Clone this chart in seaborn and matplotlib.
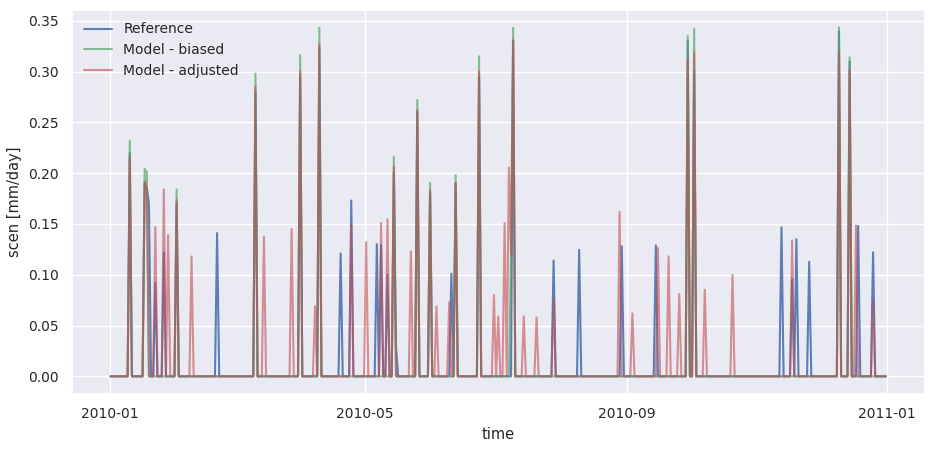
import numpy as np
import pandas as pd
import matplotlib
matplotlib.use("Agg")
import matplotlib.pyplot as plt
import matplotlib.dates as mdates
import seaborn as sns

# Daily series for 2010 (timestamps at noon); values are zero except on these days
n_days = 365
start = "2010-01-01 12:00"

ref_days = [9, 16, 17, 18, 21, 25, 31, 50, 68, 89, 98, 108, 113, 125, 127, 130, 133, 134,
            144, 150, 160, 162, 173, 189, 208, 220, 240, 256, 271, 274, 315, 320, 322,
            328, 342, 347, 351, 358]
ref_vals = [0.22, 0.19, 0.185, 0.17, 0.092, 0.122, 0.17, 0.141, 0.28, 0.295, 0.323, 0.121,
            0.173, 0.130, 0.129, 0.10, 0.20, 0.03, 0.26, 0.18, 0.101, 0.19, 0.295, 0.33, 0.114,
            0.1245, 0.128, 0.129, 0.33, 0.30, 0.1467, 0.0958, 0.135, 0.1127, 0.34, 0.31,
            0.148, 0.122]

hist_days = [9, 16, 17, 31, 68, 89, 98, 133, 144, 150, 162, 173, 188, 189, 271, 274, 342, 347]
hist_vals = [0.232, 0.204, 0.201, 0.184, 0.298, 0.316, 0.343, 0.216, 0.272, 0.1905, 0.198,
             0.315, 0.12, 0.343, 0.335, 0.342, 0.3435, 0.314]

scen_days = [9, 16, 17, 21, 25, 27, 31, 38, 68, 72, 85, 89, 96, 98, 113, 120, 127, 130,
             133, 141, 144, 150, 153, 159, 162, 173, 180, 182, 185, 187, 188, 189, 194, 200,
             208, 239, 245, 257, 262, 267, 271, 274, 279, 292, 320, 342, 347, 350, 358]
scen_vals = [0.215, 0.192, 0.185, 0.147, 0.184, 0.139, 0.1735, 0.118, 0.285, 0.1376, 0.145,
             0.30, 0.069, 0.327, 0.149, 0.132, 0.151, 0.1546, 0.206, 0.123, 0.262, 0.183,
             0.069, 0.073, 0.1905, 0.30, 0.080, 0.059, 0.151, 0.2055, 0.12, 0.331, 0.059,
             0.058, 0.077, 0.162, 0.062, 0.1265, 0.118, 0.081, 0.312, 0.319, 0.0853, 0.0997,
             0.1337, 0.319, 0.3016, 0.1484, 0.074]

labels = ["Reference", "Model - biased", "Model - adjusted"]


def build(days, vals):
    arr = np.zeros(n_days)
    arr[np.array(days)] = vals
    return arr


time = pd.date_range(start, periods=n_days, freq="D")
series = {
    labels[0]: build(ref_days, ref_vals),
    labels[1]: build(hist_days, hist_vals),
    labels[2]: build(scen_days, scen_vals),
}

sns.set_theme(style="darkgrid", rc={
    "font.size": 10, "axes.labelsize": 10.5, "xtick.labelsize": 10,
    "ytick.labelsize": 10, "legend.fontsize": 10,
})
fig, ax = plt.subplots(figsize=(9.33, 4.49), dpi=100)
fig.subplots_adjust(left=0.077, right=0.991, top=0.978, bottom=0.123)

colors = ["#4C72B0", "#55A868", "#C44E52"]
alphas = [0.9, 0.7, 0.6]
for lab, col, a in zip(labels, colors, alphas):
    sns.lineplot(x=time, y=series[lab], ax=ax, color=col, alpha=a, label=lab,
                 linewidth=1.5)

ax.xaxis.set_major_locator(mdates.MonthLocator(bymonth=[1, 5, 9]))
ax.xaxis.set_major_formatter(mdates.DateFormatter("%Y-%m"))
ax.set_xlabel("time")
ax.set_ylabel("scen [mm/day]")
ax.legend(loc="upper left", frameon=False)

fig.savefig("out.png", dpi=100)
